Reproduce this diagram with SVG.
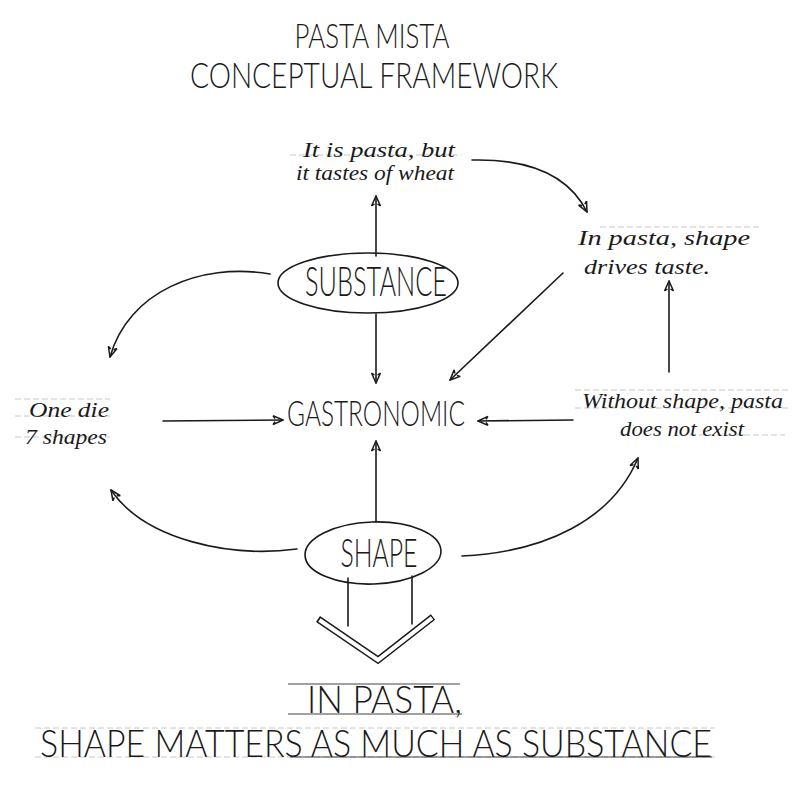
<svg xmlns="http://www.w3.org/2000/svg" width="800" height="800" viewBox="0 0 800 800">
<style>
.caps{font-family:Lato,"DejaVu Sans Condensed","Liberation Sans",sans-serif;fill:#1a1a1a;font-weight:300}
.hand{font-family:"Liberation Serif","DejaVu Serif",serif;font-style:italic;fill:#1a1a1a;font-size:22px}
.edge{fill:none;stroke:#1a1a1a;stroke-width:1.6;stroke-linecap:round}
.oval{fill:none;stroke:#1a1a1a;stroke-width:1.6}
.guide{stroke:#c8c8c8;stroke-width:1;stroke-dasharray:6 3}
.under{stroke:#444;stroke-width:1.2}
</style>
<defs>
<marker id="ah" viewBox="0 0 12 12" refX="11" refY="6" markerWidth="12" markerHeight="12" markerUnits="userSpaceOnUse" orient="auto">
<path d="M1,1.5 L11,6 L1,10.5 M3,4.5 L1,1.5 M3,7.5 L1,10.5" fill="none" stroke="#1a1a1a" stroke-width="1.5" stroke-linejoin="round"/>
</marker>
</defs>
<rect width="800" height="800" fill="#ffffff"/>

<g id="title">
<text class="caps" x="372" y="48" font-size="33" text-anchor="middle" textLength="155" lengthAdjust="spacingAndGlyphs">PASTA MISTA</text>
<text class="caps" x="374" y="88" font-size="36" text-anchor="middle" textLength="368" lengthAdjust="spacingAndGlyphs">CONCEPTUAL FRAMEWORK</text>
</g>

<g id="connectors">
<path class="edge" d="M376,256 L376,196" marker-end="url(#ah)"/>
<path class="edge" d="M376,314 L376,383" marker-end="url(#ah)"/>
<path class="edge" d="M376,522 L376,441" marker-end="url(#ah)"/>
<path class="edge" d="M163,421 L283,420" marker-end="url(#ah)"/>
<path class="edge" d="M573,420 L478,421" marker-end="url(#ah)"/>
<path class="edge" d="M563,273 L450,380" marker-end="url(#ah)"/>
<path class="edge" d="M669,372 L669,281" marker-end="url(#ah)"/>
<path class="edge" d="M472,160 Q560,158 587,212" marker-end="url(#ah)"/>
<path class="edge" d="M270,274 C200,262 128,292 110,357" marker-end="url(#ah)"/>
<path class="edge" d="M297,549 C230,558 145,540 111,490" marker-end="url(#ah)"/>
<path class="edge" d="M462,556 C545,552 612,520 638,458" marker-end="url(#ah)"/>
<path class="edge" d="M348,578 L348,626 M412,576 L412,624"/>
<path d="M318,619 L378,660 L433,617" fill="none" stroke="#1a1a1a" stroke-width="7" stroke-linejoin="miter" stroke-miterlimit="10"/>
<path d="M319.4,620 L378,660 L432,617.8" fill="none" stroke="#ffffff" stroke-width="4" stroke-linejoin="miter" stroke-miterlimit="10"/>
</g>

<g id="node-wheat">
<line class="guide" x1="290" y1="155" x2="462" y2="155"/>
<text class="hand" x="303" y="157" textLength="152" lengthAdjust="spacingAndGlyphs">It is pasta, but</text>
<text class="hand" x="296" y="180" textLength="158" lengthAdjust="spacingAndGlyphs">it tastes of wheat</text>
</g>

<g id="node-taste">
<line class="guide" x1="600" y1="227" x2="760" y2="227"/>
<text class="hand" x="578" y="245" textLength="172" lengthAdjust="spacingAndGlyphs">In pasta, shape</text>
<text class="hand" x="584" y="274" textLength="126" lengthAdjust="spacingAndGlyphs">drives taste.</text>
</g>

<g id="node-substance">
<ellipse class="oval" cx="368" cy="283" rx="90" ry="30"/>
<text class="caps" x="376" y="296" font-size="42" text-anchor="middle" textLength="142" lengthAdjust="spacingAndGlyphs">SUBSTANCE</text>
</g>

<g id="node-gastronomic">
<text class="caps" x="376" y="426" font-size="35" text-anchor="middle" textLength="178" lengthAdjust="spacingAndGlyphs">GASTRONOMIC</text>
</g>

<g id="node-die">
<line class="guide" x1="15" y1="399" x2="110" y2="399"/>
<line class="guide" x1="15" y1="416" x2="110" y2="416"/>
<line class="guide" x1="15" y1="437" x2="110" y2="437"/>
<text class="hand" x="29" y="417" textLength="80" lengthAdjust="spacingAndGlyphs">One die</text>
<text class="hand" x="25" y="444" textLength="82" lengthAdjust="spacingAndGlyphs">7 shapes</text>
</g>

<g id="node-exist">
<line class="guide" x1="575" y1="390" x2="790" y2="390"/>
<line class="guide" x1="575" y1="408" x2="790" y2="408"/>
<line class="guide" x1="690" y1="435" x2="785" y2="435"/>
<text class="hand" x="582" y="408" textLength="201" lengthAdjust="spacingAndGlyphs">Without shape, pasta</text>
<text class="hand" x="620" y="436" textLength="124" lengthAdjust="spacingAndGlyphs">does not exist</text>
</g>

<g id="node-shape">
<ellipse class="oval" cx="373" cy="553" rx="68" ry="31" transform="rotate(-2 373 553)"/>
<text class="caps" x="379" y="567" font-size="40" text-anchor="middle" textLength="77" lengthAdjust="spacingAndGlyphs">SHAPE</text>
</g>

<g id="conclusion">
<line class="under" x1="288" y1="684" x2="460" y2="684"/>
<line class="under" x1="288" y1="714" x2="462" y2="714"/>
<line class="guide" x1="35" y1="728" x2="715" y2="728"/>
<line class="guide" x1="35" y1="757" x2="715" y2="757"/>
<line class="under" x1="290" y1="757" x2="712" y2="757"/>
<text class="caps" x="307" y="713" font-size="37" textLength="155" lengthAdjust="spacingAndGlyphs">IN PASTA,</text>
<text class="caps" x="40" y="757" font-size="37" textLength="672" lengthAdjust="spacingAndGlyphs">SHAPE  MATTERS AS  MUCH  AS  SUBSTANCE</text>
</g>
</svg>
